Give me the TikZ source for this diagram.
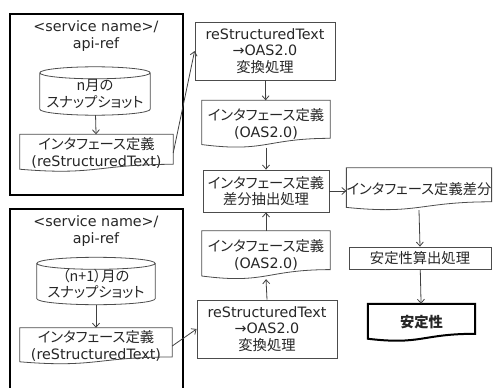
\documentclass[tikz,border=0pt]{standalone}
\usepackage{fontspec}
\setmainfont{DejaVu Sans}
\newfontfamily\jp[RawFeature=+palt]{Noto Sans CJK JP}
\usetikzlibrary{arrows,arrows.meta,calc}

% outline of a document shape around a node
\newcommand{\docline}[2][]{%
  \draw[shapeline,#1] let \p1=(#2.north west), \p2=(#2.south east) in
    (\x1,\y1) -- (\x2,\y1) -- (\x2,{\y2+0.198*(\y1-\y2)})
    .. controls ({(\x1+\x2)/2},{\y2+0.198*(\y1-\y2)}) and ({(\x1+\x2)/2},{\y2-0.107*(\y1-\y2)}) .. (\x1,{\y2+0.066*(\y1-\y2)}) -- cycle;}
% outline of a cylinder around a node
\newcommand{\cylline}[1]{%
  \draw[shapeline] let \p1=(#1.north west), \p2=(#1.south east) in
    ({(\x1+\x2)/2},\y1) ellipse [x radius={(\x2-\x1)/2}, y radius=6pt]
    (\x1,\y1) -- (\x1,{\y2+6pt}) arc [start angle=180, end angle=360, x radius={(\x2-\x1)/2}, y radius=6pt] -- (\x2,\y1);}

\tikzset{shapeline/.style={draw=black!70, line width=0.8pt}}

\begin{document}
\begin{tikzpicture}[x=1pt, y=-1pt, ->, >={Straight Barb[length=4pt,width=7pt]}]
\tikzstyle{every node} = [font=\fontsize{14.3}{16.8}\selectfont, text=black!85, align=center, inner sep=0pt]
\tikzstyle{boxnode} = [draw=black!70, line width=0.8pt]
\clip (0,0) rectangle (493,388);
% groups
\draw[-, line width=1.6pt] (10,14) rectangle (183,195);
\draw[-, line width=1.6pt] (10,209) rectangle (183,398);
\node (title1) at (96,36) {<service name>/\\api-ref};
\node (title2) at (96,231) {<service name>/\\api-ref};
\node[minimum width=110, minimum height=42] (snap1) at (95,94) {{\jp n月の}\\{\jp スナップショット}};
\node[minimum width=118, minimum height=41] (snap2) at (96,284) {{\jp （n+1）月の}\\{\jp スナップショット}};
\node[minimum width=153, minimum height=37] (doc1) at (96.5,153) {{\jp インタフェース定義}\\(reStructuredText)};
\node[minimum width=152, minimum height=36] (doc5) at (96,346) {{\jp インタフェース定義}\\(reStructuredText)};
% middle column
\node[boxnode, minimum width=140, minimum height=58] (conv1) at (265,51) {reStructuredText\\→OAS2.0\\{\jp 変換処理}};
\node[minimum width=128, minimum height=47] (doc2) at (266,124) {{\jp インタフェース定義}\\(OAS2.0)};
\node[boxnode, minimum width=126, minimum height=42] (diff) at (266,191) {{\jp インタフェース定義}\\{\jp 差分抽出処理}};
\node[minimum width=128, minimum height=48] (doc4) at (266,255) {{\jp インタフェース定義}\\(OAS2.0)};
\node[boxnode, minimum width=140, minimum height=58] (conv2) at (267,329) {reStructuredText\\→OAS2.0\\{\jp 変換処理}};
% right column
\node[minimum width=144, minimum height=42] (doc6) at (419,189) {{\jp インタフェース定義差分}};
\node[boxnode, minimum width=142, minimum height=22] (calc) at (420,258) {{\jp 安定性算出処理}};
\node[minimum width=107, minimum height=37] (doc8) at (421.5,322.5) {{\jp\bfseries 安定性}};
\tikzstyle{every node} = []
\cylline{snap1}
\cylline{snap2}
\docline{doc1}
\docline{doc5}
\docline{doc2}
\docline{doc4}
\docline{doc6}
\docline[line width=2pt, draw=black]{doc8}
\begin{scope}[draw=black!75, line width=0.8pt]
\draw (snap1) -- (doc1);
\draw (snap2) -- (doc5);
\draw (doc1.east) -- (conv1.west);
\draw (doc5.east) -- (conv2.west);
\draw (conv1) -- (doc2);
\draw (doc2.south) -- (diff.north);
\draw (doc4) -- (diff);
\draw (conv2.north) -- (doc4.south);
\draw (diff.east) -- (diff.east -| doc6.west);
\draw (doc6.south) -- (calc.north);
\draw (calc) -- (doc8);
\end{scope}
\end{tikzpicture}
\end{document}
